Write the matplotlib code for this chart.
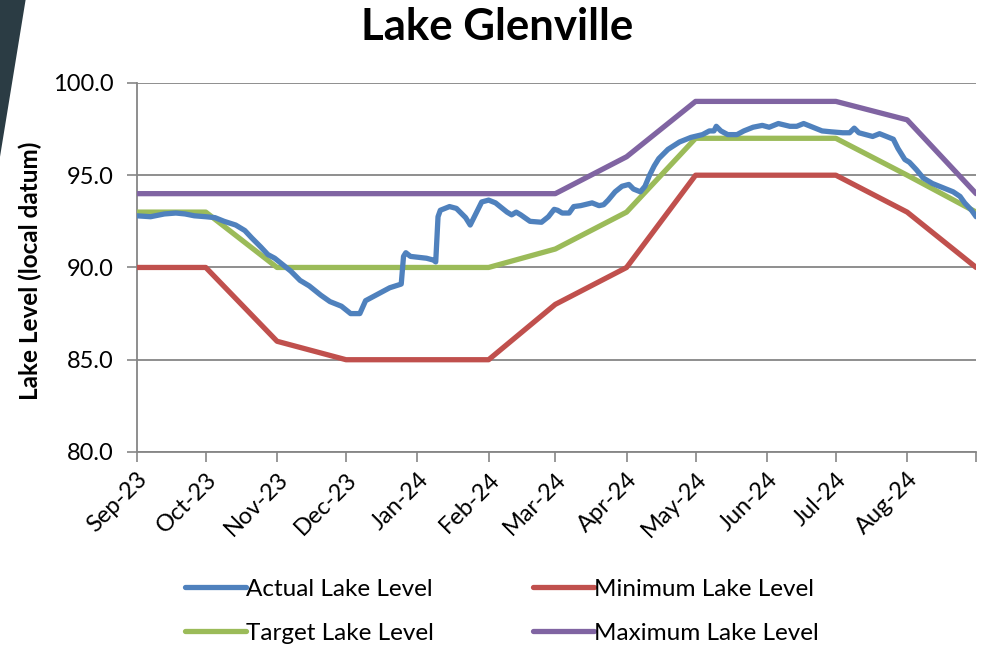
import pandas as pd
import matplotlib
matplotlib.use("Agg")
import matplotlib.pyplot as plt
from matplotlib.patches import Polygon

plt.rcParams['font.family'] = ['Lato', 'DejaVu Sans']

start = pd.Timestamp('2023-09-01')

# rule curves (month start dates)
curve_dates = ['2023-09-01', '2023-10-01', '2023-11-01', '2023-12-01', '2024-01-01', '2024-02-01',
               '2024-03-01', '2024-04-01', '2024-05-01', '2024-06-01', '2024-07-01', '2024-08-01',
               '2024-08-31']
min_level = [90, 90, 86, 85, 85, 85, 88, 90, 95, 95, 95, 93, 90]
target_level = [93, 93, 90, 90, 90, 90, 91, 93, 97, 97, 97, 95, 93]
max_level = [94, 94, 94, 94, 94, 94, 94, 96, 99, 99, 99, 98, 94]

# actual lake level, days since 2023-09-01
act_day = [0, 6, 12, 17, 21, 25, 30, 34, 38, 43, 47, 50, 54, 57, 60, 62, 67, 71, 75, 80,
           84, 89, 93, 97, 99.5, 104, 110, 115, 116, 117, 119, 126, 129, 130, 131, 132, 136, 139, 143, 145,
           147, 150, 153, 156, 161, 163, 165, 167, 171, 176, 179, 181.5, 183, 185, 188, 190, 193, 198, 201, 203,
           205, 208, 211, 214, 216, 219, 221, 223, 225, 227, 231, 236, 241, 246, 249, 251, 252, 254, 257, 261,
           264, 268, 272, 275, 279, 284, 287, 290, 294, 298, 302, 307, 310, 312, 314, 317, 320, 323, 326, 329,
           331, 334, 336, 339, 342, 346, 350, 355, 358, 360, 363, 365]
act_level = [92.8, 92.75, 92.9, 92.95, 92.9, 92.8, 92.75, 92.7, 92.5, 92.3, 92.0, 91.6, 91.1, 90.7, 90.5, 90.3, 89.8, 89.3, 89.0, 88.5,
             88.15, 87.9, 87.5, 87.5, 88.2, 88.5, 88.9, 89.1, 90.6, 90.8, 90.6, 90.5, 90.4, 90.3, 92.75, 93.1, 93.3, 93.2, 92.7, 92.3,
             92.8, 93.55, 93.65, 93.5, 93.0, 92.85, 93.0, 92.85, 92.5, 92.45, 92.75, 93.15, 93.1, 92.95, 92.95, 93.3, 93.35, 93.5, 93.35, 93.4,
             93.65, 94.1, 94.4, 94.5, 94.25, 94.1, 94.4, 95.0, 95.5, 95.9, 96.4, 96.8, 97.05, 97.2, 97.4, 97.4, 97.65, 97.4, 97.2, 97.2,
             97.4, 97.6, 97.7, 97.6, 97.8, 97.65, 97.65, 97.8, 97.6, 97.4, 97.35, 97.3, 97.3, 97.55, 97.3, 97.2, 97.1, 97.25, 97.1, 96.95,
             96.45, 95.85, 95.7, 95.3, 94.85, 94.55, 94.35, 94.1, 93.85, 93.5, 93.1, 92.75]

tick_dates = pd.date_range('2023-09-01', '2024-08-01', freq='MS')

act_dates = start + pd.to_timedelta(act_day, unit='D')
cdates = pd.to_datetime(curve_dates)

fig = plt.figure(figsize=(9.84, 6.48), dpi=100)
fig.patches.append(Polygon([[0, 1], [0.026, 1], [0, 0.758]], closed=True,
                           transform=fig.transFigure, facecolor='#2B3C44', edgecolor='none'))
ax = fig.add_axes([0.139, 0.3025, 0.853, 0.5695])

lw = 3.8
l_act, = ax.plot(act_dates, act_level, color='#4F81BD', lw=lw, solid_capstyle='round', solid_joinstyle='round', zorder=5)
l_min, = ax.plot(cdates, min_level, color='#C0504D', lw=lw, solid_capstyle='round', zorder=4)
l_tgt, = ax.plot(cdates, target_level, color='#9BBB59', lw=lw, solid_capstyle='round', zorder=4)
l_max, = ax.plot(cdates, max_level, color='#8064A2', lw=lw, solid_capstyle='round', zorder=4)

ax.set_xlim(pd.Timestamp('2023-09-01'), pd.Timestamp('2024-08-31'))
ax.set_ylim(80, 100)
ax.set_yticks([80, 85, 90, 95, 100])
ax.set_yticklabels(['%.1f' % v for v in [80, 85, 90, 95, 100]])
ax.set_xticks(list(tick_dates) + [pd.Timestamp('2024-08-31')])
ax.set_xticklabels([d.strftime('%b-%y') for d in tick_dates] + [''], rotation=45, ha='right',
                   rotation_mode='anchor')
ax.tick_params(axis='both', labelsize=17, color='#868686', length=7, width=1.2)
ax.tick_params(axis='y', pad=10)
ax.tick_params(axis='x', pad=5)
ax.grid(axis='y', color='#868686', lw=1.3)
ax.set_axisbelow(True)
for s in ['top', 'right']:
    ax.spines[s].set_visible(False)
for s in ['left', 'bottom']:
    ax.spines[s].set_color('#868686')
    ax.spines[s].set_linewidth(1.3)

ax.set_ylabel('Lake Level (local datum)', fontsize=17.5, fontweight='bold')
ax.yaxis.set_label_coords(-0.113, 0.49)
fig.text(0.505, 0.958, 'Lake Glenville', ha='center', va='center', fontsize=31.5, fontweight='bold')

fig.legend([l_act, l_tgt, l_min, l_max],
           ['Actual Lake Level', 'Target Lake Level', 'Minimum Lake Level', 'Maximum Lake Level'],
           ncol=2, loc='center', bbox_to_anchor=(0.51, 0.057), frameon=False, fontsize=17.5,
           handlelength=2.5, handletextpad=0.0, columnspacing=4.1, labelspacing=0.95)

fig.savefig('out.png', dpi=100)
